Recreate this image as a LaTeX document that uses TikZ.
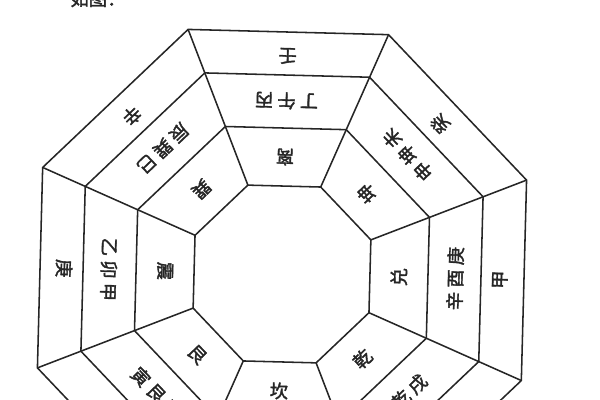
\documentclass[tikz,border=0pt]{standalone}
\usepackage{fontspec}
\setmainfont{Noto Sans CJK SC}[AutoFakeBold=2]
\usetikzlibrary{shapes.geometric}
\newcommand{\zgap}{\hspace{3pt}}
\tikzset{
	oct/.style={draw=black!85,line width=1.1pt,regular polygon,regular polygon sides=8,inner sep=0,outer sep=0,rotate=-1.5},
	spoke/.style={draw=black!85,line width=1.1pt},
	word/.style={font=\fontsize{13}{15}\selectfont\bfseries,text=black!85,inner sep=0}
}

\begin{document}
\begin{tikzpicture}
	\useasboundingbox (-7.05,-3.15) rectangle (7.95,6.85);
	\clip (-7.05,-3.15) rectangle (7.95,6.85);
	\node[word,anchor=north] (rutu) at (-4.6,7.1) {如图：};
	\node[oct,minimum size=4.76cm] (o1) at (0,0) {};
	\node[oct,minimum size=7.90cm] (o2) at (0,0) {};
	\node[oct,minimum size=10.77cm] (o3) at (0,0) {};
	\node[oct,minimum size=13.10cm] (o4) at (0,0) {};
	\draw[spoke] (o1.corner 1) -- (o4.corner 1);
	\draw[spoke] (o1.corner 2) -- (o4.corner 2);
	\draw[spoke] (o1.corner 3) -- (o4.corner 3);
	\draw[spoke] (o1.corner 4) -- (o4.corner 4);
	\draw[spoke] (o1.corner 5) -- (o4.corner 5);
	\draw[spoke] (o1.corner 6) -- (o4.corner 6);
	\draw[spoke] (o1.corner 7) -- (o4.corner 7);
	\draw[spoke] (o1.corner 8) -- (o4.corner 8);
	\node[word,rotate=178.5] (li) at (88.5:2.925) {离};
	\node[word,rotate=133.5] (kun) at (43.5:2.925) {坤};
	\node[word,rotate=88.5] (dui) at (-1.5:2.925) {兑};
	\node[word,rotate=43.5] (qian) at (-46.5:2.925) {乾};
	\node[word,rotate=-1.5] (kan) at (-91.5:2.925) {坎};
	\node[word,rotate=-46.5] (gen) at (223.5:2.925) {艮};
	\node[word,rotate=268.5] (zhen) at (178.5:2.925) {震};
	\node[word,rotate=223.5] (xun) at (133.5:2.925) {巽};
	\node[word,rotate=178.5] (limid) at (88.5:4.33) {丁\zgap 午\zgap 丙};
	\node[word,rotate=133.5] (kunmid) at (43.5:4.33) {申\zgap 坤\zgap 未};
	\node[word,rotate=88.5] (duimid) at (-1.5:4.33) {辛\zgap 酉\zgap 庚};
	\node[word,rotate=43.5] (qianmid) at (-46.5:4.33) {亥\zgap 乾\zgap 戌};
	\node[word,rotate=-46.5] (genmid) at (223.5:4.33) {寅\zgap 艮\zgap 丑};
	\node[word,rotate=268.5] (zhenmid) at (178.5:4.33) {乙\zgap 卯\zgap 甲};
	\node[word,rotate=223.5] (xunmid) at (133.5:4.33) {辰\zgap 巽\zgap 巳};
	\node[word,rotate=178.5] (liout) at (88.5:5.45) {壬};
	\node[word,rotate=133.5] (kunout) at (43.5:5.45) {癸};
	\node[word,rotate=88.5] (duiout) at (-1.5:5.45) {甲};
	\node[word,rotate=268.5] (zhenout) at (178.5:5.45) {庚};
	\node[word,rotate=223.5] (xunout) at (133.5:5.45) {辛};
\end{tikzpicture}
\end{document}
